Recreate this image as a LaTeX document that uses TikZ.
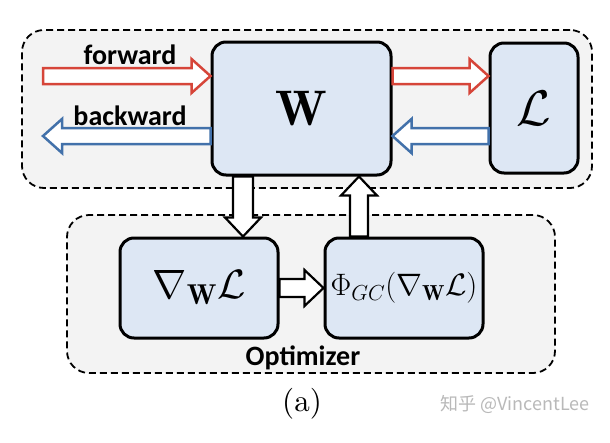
\RequirePackage{fix-cm}
\documentclass[tikz,border=0pt]{standalone}
\usepackage{fontspec}
\setsansfont{Carlito}
\newfontfamily\cjk{Noto Sans CJK SC}
\newfontfamily\capfont{lmroman10-regular.otf}
\usetikzlibrary{calc}
\definecolor{boxfill}{RGB}{221,231,244}
\definecolor{regfill}{RGB}{243,243,243}
\definecolor{fwdred}{RGB}{214,69,57}
\definecolor{bwdblue}{RGB}{66,113,170}
\definecolor{wmgray}{RGB}{185,185,185}
% horizontal fat arrow: style, tail, tip, head length (signed), half shaft, half head
\newcommand\harr[6]{%
 \draw[#1] ($(#2)+(0,#5)$) -- ($(#3)+({-1*(#4)},#5)$) -- ($(#3)+({-1*(#4)},#6)$) -- (#3)
  -- ($(#3)+({-1*(#4)},-#6)$) -- ($(#3)+({-1*(#4)},-#5)$) -- ($(#2)+(0,-#5)$) -- cycle;}
% vertical fat arrow
\newcommand\varr[6]{%
 \draw[#1] ($(#2)+(#5,0)$) -- ($(#3)+(#5,{-1*(#4)})$) -- ($(#3)+(#6,{-1*(#4)})$) -- (#3)
  -- ($(#3)+(-#6,{-1*(#4)})$) -- ($(#3)+(-#5,{-1*(#4)})$) -- ($(#2)+(-#5,0)$) -- cycle;}
\begin{document}
\begin{tikzpicture}[x=1pt,y=-1pt,
  region/.style={draw=black, fill=regfill, line width=1.8pt, dash pattern=on 7pt off 4pt,
    rounded corners=22pt, inner sep=0pt},
  box/.style={draw=black, fill=boxfill, line width=3pt, rounded corners=14pt, inner sep=0pt},
  redarr/.style={draw=fwdred, fill=white, line width=2.5pt},
  bluearr/.style={draw=bwdblue, fill=white, line width=2.5pt},
  blkarr/.style={draw=black, fill=white, line width=2.2pt},
  lbl/.style={font={\fontsize{28}{30}\selectfont\sffamily\bfseries}, inner sep=0pt}]
\useasboundingbox (0,0) rectangle (610,442);
\fill[white] (0,0) rectangle (610,442);
% regions
\node[region, minimum width=570pt, minimum height=158pt] (top) at (307,109) {};
\node[region, minimum width=488pt, minimum height=158pt] (opt) at (311,294) {};
% boxes
\node[box, minimum width=179pt, minimum height=133pt] (W) at (301.5,108.5)
  {\fontsize{50}{50}\selectfont$\mathbf{W}$};
\node[box, minimum width=88pt, minimum height=130pt] (L) at (534,108)
  {\fontsize{50}{50}\selectfont$\mathcal{L}$};
\node[box, minimum width=158pt, minimum height=100pt] (G) at (199,288)
  {\fontsize{41}{41}\selectfont$\nabla_{\mathbf{W}}\mathcal{L}$};
\node[box, minimum width=158pt, minimum height=100pt] (P) at (404,288)
  {\fontsize{31}{31}\selectfont$\Phi_{GC}(\nabla_{\mathbf{W}}\mathcal{L})$};
% arrow end points
\coordinate (fwdtail) at (43,76);
\coordinate (fwdtip) at (W.west |- fwdtail);
\coordinate (f2tail) at (W.east |- fwdtail);
\coordinate (f2tip) at (L.west |- fwdtail);
\coordinate (bwdtip) at (43,136);
\coordinate (bwdtail) at (W.west |- bwdtip);
\coordinate (b2tail) at (L.west |- bwdtip);
\coordinate (b2tip) at (W.east |- bwdtip);
\coordinate (dnx) at (243,200);
\coordinate (dntail) at (W.south -| dnx);
\coordinate (dntip) at (G.north -| dnx);
\coordinate (upx) at (359,200);
\coordinate (uptail) at (P.north -| upx);
\coordinate (uptip) at (W.south -| upx);
% arrows
\harr{redarr}{fwdtail}{fwdtip}{19}{8}{17}
\harr{redarr}{f2tail}{f2tip}{19}{8}{17}
\harr{bluearr}{bwdtail}{bwdtip}{-19}{8}{17}
\harr{bluearr}{b2tail}{b2tip}{-19}{8}{17}
\varr{blkarr}{dntail}{dntip}{19}{10}{18}
\varr{blkarr}{uptail}{uptip}{-19}{9}{18}
\harr{blkarr}{G.east}{P.west}{19}{9}{18}
% labels
\node[lbl] (fw) at (130,55) {forward};
\node[lbl] (bw) at (130,116) {backward};
\node[lbl] (op) at (303,358) {Optimizer};
\node[font={\fontsize{31}{31}\selectfont\capfont}, inner sep=0pt] (cap) at (302,404) {(a)};
\node[font={\fontsize{18}{18}\selectfont\cjk}, text=wmgray, inner sep=0pt] (wm) at (515,404) {知乎 @VincentLee};
\end{tikzpicture}
\end{document}
